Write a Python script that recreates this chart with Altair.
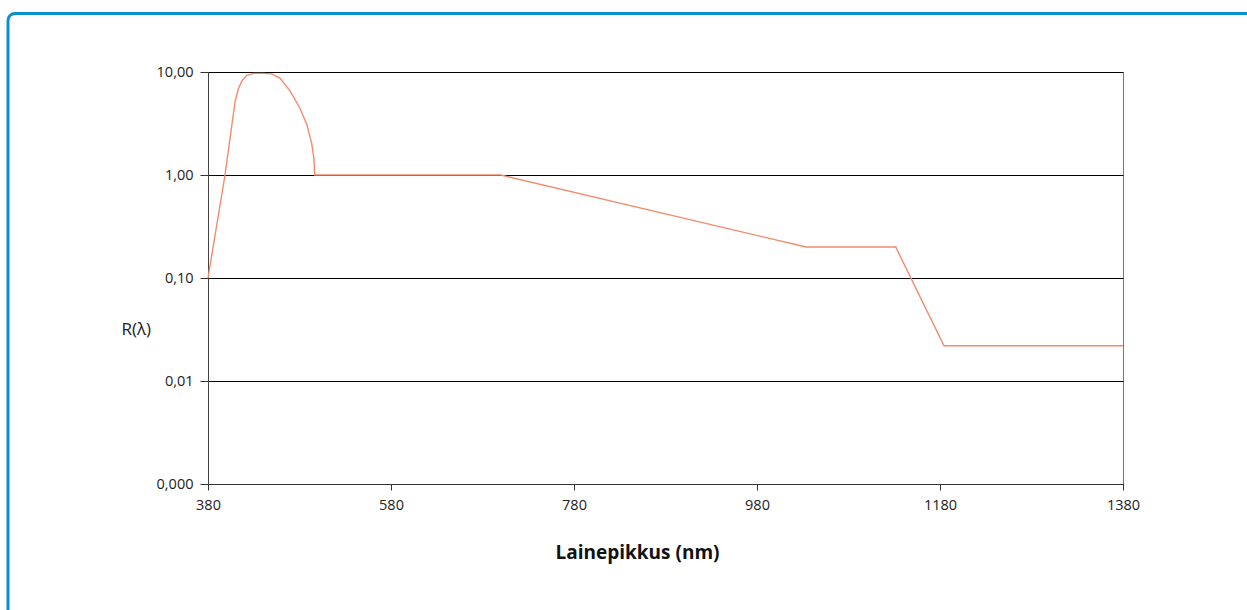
import altair as alt
import pandas as pd

# Wavelength (nm) and weighting factor R(λ)
wavelength = [380, 398.6, 409.5, 413, 416.8, 422, 429.5, 440.5, 449.6, 458.7,
              469.6, 480.5, 487.9, 493.3, 495.8, 496.6, 700, 1033.5, 1131.6,
              1184.4, 1380]
r_value = [0.10, 1.0, 5.1, 6.8, 8.1, 9.24, 9.7, 9.7, 9.6, 8.74,
           6.57, 4.45, 3.12, 2.03, 1.43, 1.0, 1.0, 0.20, 0.20,
           0.022, 0.022]

x_ticks = [380, 580, 780, 980, 1180, 1380]
y_ticks = [0.001, 0.01, 0.1, 1, 10]

df = pd.DataFrame({"wl": wavelength, "r": r_value})

FONT = "Open Sans"

y_label_expr = (
    "datum.value > 5 ? '10,00' : datum.value > 0.5 ? '1,00' : "
    "datum.value > 0.05 ? '0,10' : datum.value > 0.005 ? '0,01' : '0,000'"
)

curve = alt.Chart(df).mark_line(color="#f28a6e", strokeWidth=1.4).encode(
    x=alt.X(
        "wl:Q",
        scale=alt.Scale(domain=[380, 1380], nice=False, zero=False),
        axis=alt.Axis(
            values=x_ticks,
            format="d",
            grid=False,
            title="Lainepikkus (nm)",
            titleFont=FONT,
            titleFontSize=19,
            titleFontWeight="bold",
            titleColor="#111",
            titleX=429,
            titleAlign="center",
            titleBaseline="alphabetic",
            titleY=74,
            labelFont=FONT,
            labelFontSize=14.5,
            labelColor="#222",
            labelPadding=8,
            tickSize=6,
            tickColor="#333",
            domainColor="#333",
            labelFlush=False,
        ),
    ),
    y=alt.Y(
        "r:Q",
        scale=alt.Scale(type="log", domain=[0.001, 10], nice=False),
        axis=alt.Axis(
            values=y_ticks,
            labelExpr=y_label_expr,
            grid=True,
            gridColor="#000",
            gridWidth=1,
            title="R(λ)",
            titleAngle=0,
            titleAlign="left",
            titleBaseline="middle",
            titleX=-87,
            titleY=257,
            titleFont=FONT,
            titleFontSize=17,
            titleFontWeight="normal",
            titleColor="#222",
            labelFont=FONT,
            labelFontSize=14.5,
            labelColor="#222",
            labelPadding=7,
            tickSize=8,
            tickColor="#333",
            domainColor="#444",
        ),
    ),
)

# Rounded blue frame around the figure
frame = alt.Chart(alt.Data(values=[{"k": 1}])).mark_rect(
    fill=None,
    fillOpacity=0,
    stroke="#0a8fcf",
    strokeWidth=3,
    cornerRadius=7,
).encode(
    x=alt.value(-200),
    x2=alt.value(1140),
    y=alt.value(-58.5),
    y2=alt.value(600),
)

chart = alt.layer(frame, curve).properties(
    width=915,
    height=412,
    padding={"left": 208, "top": 72, "right": 124, "bottom": 126},
    autosize=alt.AutoSizeParams(type="none"),
    background="white",
).configure_view(stroke="#777", strokeWidth=1)

chart.save("out.html", embed_options={"renderer": "svg", "actions": False})
